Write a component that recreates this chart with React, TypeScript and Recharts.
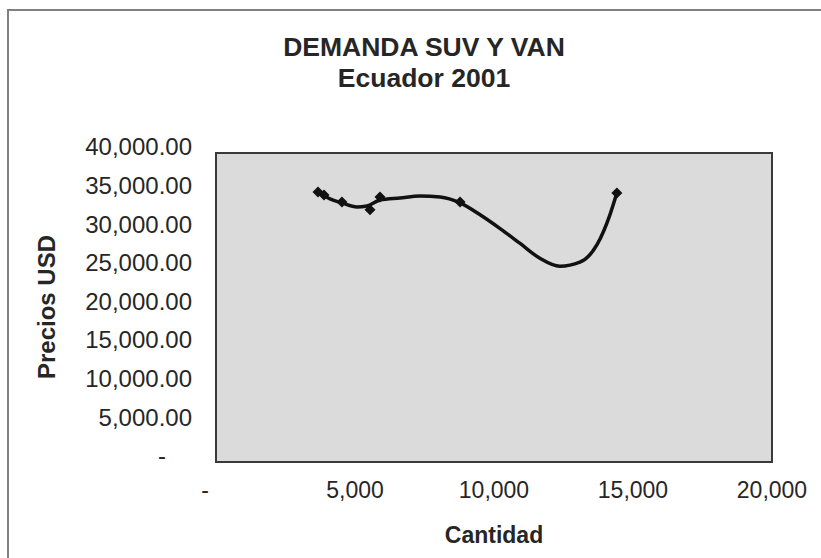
import React from "react";
import {
  ComposedChart,
  Line,
  Scatter,
  XAxis,
  YAxis,
  ReferenceArea,
} from "recharts";

// Observed data points (Cantidad, Precio USD)
const cantidades = [3670, 3885, 4530, 5540, 5900, 8780, 14420];
const precios = [34940, 34560, 33660, 32640, 34300, 33660, 34820];

// Smoothed curve
const curveX = [3670, 4100, 4530, 5070, 5430, 5900, 6620, 7340, 8060, 8780, 9500, 10220, 10940, 11650, 12370, 13090, 13710, 14170, 14420];
const curveY = [34940, 34050, 33540, 33020, 33150, 33920, 34180, 34430, 34300, 33540, 32000, 30210, 28290, 26370, 25340, 25860, 28160, 32000, 34820];

const xTicks = [0, 5000, 10000, 15000, 20000];
const yTicks = [0, 5000, 10000, 15000, 20000, 25000, 30000, 35000, 40000];

const title1 = "DEMANDA SUV Y VAN";
const title2 = "Ecuador 2001";
const xTitle = "Cantidad";
const yTitle = "Precios USD";

const points = cantidades.map((x, i) => ({ x, y: precios[i] }));
const curve = curveX.map((x, i) => ({ x, y: curveY[i] }));

const FONT = "'Liberation Sans', Arial, sans-serif";
const TEXT = "#262626";

const XTick = (props: any) => {
  const { x, y, payload } = props;
  const v = payload.value;
  const label = v === 0 ? "-" : v.toLocaleString("en-US");
  return (
    <text
      x={v === 0 ? x - 11 : x}
      y={y}
      textAnchor="middle"
      dominantBaseline="middle"
      fontFamily={FONT}
      fontSize={23}
      fill={TEXT}
    >
      {label}
    </text>
  );
};

const YTick = (props: any) => {
  const { x, y, payload } = props;
  const v = payload.value;
  const label =
    v === 0
      ? "-"
      : v.toLocaleString("en-US", { minimumFractionDigits: 2, maximumFractionDigits: 2 });
  return (
    <text
      x={v === 0 ? x - 26 : x}
      y={y - 4}
      textAnchor="end"
      dominantBaseline="middle"
      fontFamily={FONT}
      fontSize={24}
      fill={TEXT}
    >
      {label}
    </text>
  );
};

const Diamond = (props: any) => {
  const { cx, cy } = props;
  const r = 5.5;
  return (
    <polygon
      points={`${cx},${cy - r} ${cx + r},${cy} ${cx},${cy + r} ${cx - r},${cy}`}
      fill="#111"
    />
  );
};

export default function App() {
  return (
    <div
      style={{
        position: "absolute",
        left: 0,
        top: 0,
        width: 821,
        height: 558,
        background: "#fff",
        overflow: "hidden",
        fontFamily: FONT,
      }}
    >
      <div
        style={{
          position: "absolute",
          left: 7,
          top: 9,
          width: 900,
          height: 700,
          borderLeft: "2px solid #808080",
          borderTop: "2px solid #808080",
        }}
      />
      <div
        style={{
          position: "absolute",
          left: 0,
          top: 0,
          width: 821,
          height: 558,
        }}
      >
        <ComposedChart
          width={821}
          height={558}
          margin={{ top: 153, right: 49, bottom: 56, left: 0 }}
        >
          <XAxis
            type="number"
            dataKey="x"
            domain={[0, 20000]}
            ticks={xTicks}
            tick={<XTick />}
            tickLine={false}
            tickSize={0}
            tickMargin={30}
            axisLine={false}
            height={40}
            allowDataOverflow
          />
          <YAxis
            type="number"
            dataKey="y"
            domain={[0, 40000]}
            ticks={yTicks}
            tick={<YTick />}
            tickLine={false}
            tickSize={0}
            tickMargin={24}
            axisLine={false}
            width={216}
            allowDataOverflow
          />
          <ReferenceArea
            x1={0}
            x2={20000}
            y1={0}
            y2={40000}
            fill="#dbdbdb"
            fillOpacity={1}
            stroke="#3a3a3a"
            strokeWidth={2}
            ifOverflow="visible"
          />
          <Line
            data={curve}
            dataKey="y"
            type="monotone"
            stroke="#111"
            strokeWidth={3.5}
            dot={false}
            activeDot={false}
            isAnimationActive={false}
          />
          <Scatter
            data={points}
            dataKey="y"
            shape={<Diamond />}
            isAnimationActive={false}
          />
        </ComposedChart>
      </div>
      <div
        style={{
          position: "absolute",
          left: 224,
          width: 400,
          top: 32,
          textAlign: "center",
          fontWeight: "bold",
          fontSize: 26.5,
          lineHeight: "31px",
          color: TEXT,
        }}
      >
        <div>{title1}</div>
        <div>{title2}</div>
      </div>
      <div
        style={{
          position: "absolute",
          left: 494 - 100,
          width: 200,
          top: 520,
          textAlign: "center",
          fontWeight: "bold",
          fontSize: 23,
          lineHeight: "30px",
          color: TEXT,
        }}
      >
        {xTitle}
      </div>
      <div
        style={{
          position: "absolute",
          left: 47 - 100,
          top: 307 - 15,
          width: 200,
          height: 30,
          textAlign: "center",
          fontWeight: "bold",
          fontSize: 24,
          lineHeight: "30px",
          color: TEXT,
          transform: "rotate(-90deg)",
        }}
      >
        {yTitle}
      </div>
    </div>
  );
}
